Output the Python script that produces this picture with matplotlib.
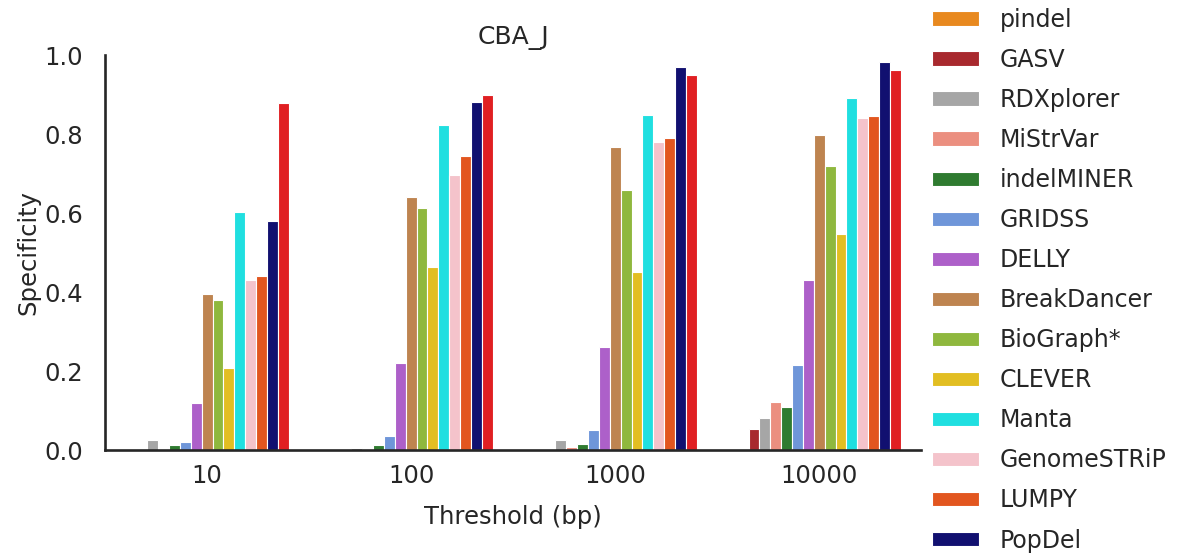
import numpy as np
import matplotlib
matplotlib.use("Agg")
import matplotlib.pyplot as plt

thresholds = ["10", "100", "1000", "10000"]

tools = ["pindel", "GASV", "RDXplorer", "MiStrVar", "indelMINER", "GRIDSS",
         "DELLY", "BreakDancer", "BioGraph*", "CLEVER", "Manta",
         "GenomeSTRiP", "LUMPY", "PopDel", "red series"]

colors = ["#e8891f", "#a8292e", "#a6a6a6", "#eb8f80", "#2f7b30", "#6f96d9",
          "#ad60c9", "#be8450", "#8fb83e", "#e2be22", "#20dfe0",
          "#f4c3cb", "#e2561f", "#111070", "#e01f22"]

# specificity per tool, one value per threshold (10, 100, 1000, 10000)
pindel = [0.0, 0.0, 0.0, 0.0]
gasv = [0.0, 0.0, 0.0, 0.053]
rdxplorer = [0.025, 0.006, 0.025, 0.081]
mistrvar = [0.003, 0.0, 0.008, 0.121]
indelminer = [0.013, 0.012, 0.016, 0.109]
gridss = [0.02, 0.036, 0.052, 0.215]
delly = [0.119, 0.22, 0.26, 0.43]
breakdancer = [0.395, 0.64, 0.767, 0.797]
biograph = [0.38, 0.613, 0.658, 0.719]
clever = [0.208, 0.463, 0.451, 0.547]
manta = [0.603, 0.823, 0.848, 0.891]
genomestrip = [0.43, 0.696, 0.78, 0.84]
lumpy = [0.44, 0.744, 0.79, 0.846]
popdel = [0.58, 0.881, 0.97, 0.982]
red_series = [0.878, 0.899, 0.949, 0.962]

values = [pindel, gasv, rdxplorer, mistrvar, indelminer, gridss, delly,
          breakdancer, biograph, clever, manta, genomestrip, lumpy, popdel,
          red_series]

dark = "#262626"
plt.rcParams["font.family"] = "DejaVu Sans"
plt.rcParams["text.color"] = dark
plt.rcParams["axes.labelcolor"] = dark
plt.rcParams["xtick.color"] = dark
plt.rcParams["ytick.color"] = dark

fig = plt.figure(figsize=(11.83, 5.57), dpi=100)
ax = fig.add_axes([0.0888, 0.192, 0.69, 0.709])

n = len(tools)
width = 0.8 / n
x = np.arange(len(thresholds))
handles = []
for i, (name, vals) in enumerate(zip(tools, values)):
    b = ax.bar(x - 0.4 + width * (i + 0.5), vals, width,
               color=colors[i], edgecolor="white", linewidth=0.8, label=name)
    handles.append(b)

ax.set_xlim(-0.5, 3.5)
ax.set_ylim(0, 1.0)
ax.set_xticks(x)
ax.set_xticklabels(thresholds)
ax.set_yticks([0.0, 0.2, 0.4, 0.6, 0.8, 1.0])
ax.tick_params(labelsize=17.5, length=0)
ax.tick_params(axis="y", pad=16)
ax.tick_params(axis="x", pad=10)
ax.set_xlabel("Threshold (bp)", fontsize=17.5, labelpad=12)
ax.set_ylabel("Specificity", fontsize=17.5, labelpad=3)
ax.set_title("CBA_J", fontsize=18, pad=8)

for side in ["top", "right"]:
    ax.spines[side].set_visible(False)
for side in ["left", "bottom"]:
    ax.spines[side].set_color(dark)
    ax.spines[side].set_linewidth(1.9)

fig.legend(handles[:14], tools[:14], loc="upper left",
           bbox_to_anchor=(0.788, 0.986), frameon=False, fontsize=17,
           borderaxespad=0, borderpad=0,
           handlelength=2.0, handleheight=0.55, labelspacing=0.68,
           handletextpad=0.85)

fig.savefig("out.png", dpi=100)
